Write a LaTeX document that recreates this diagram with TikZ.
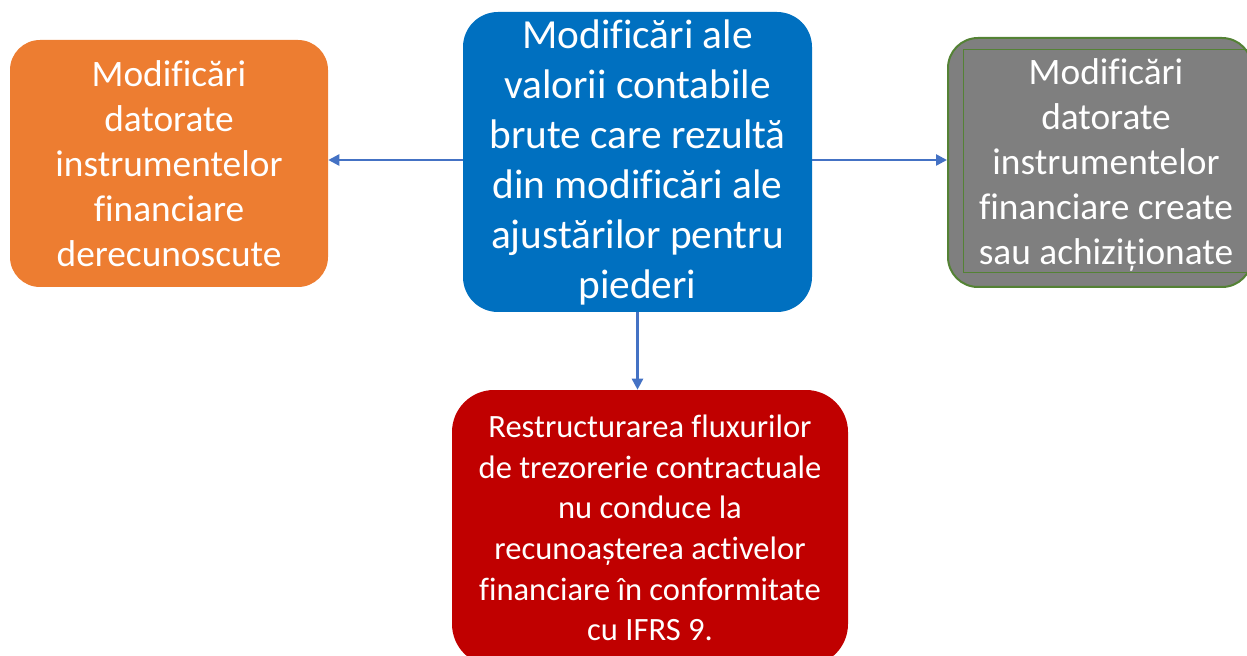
\documentclass[tikz,border=0pt]{standalone}
\usepackage{fontspec}
\setmainfont{Carlito}[Ligatures=CommonOff]
\usetikzlibrary{positioning,arrows.meta}

\definecolor{boxorange}{HTML}{ED7D31}
\definecolor{boxblue}{HTML}{0070C0}
\definecolor{boxgray}{HTML}{7F7F7F}
\definecolor{boxgreen}{HTML}{548235}
\definecolor{boxred}{HTML}{C00000}
\definecolor{linkblue}{HTML}{4472C4}
\newcommand{\px}{0.75pt}

\begin{document}
\begin{tikzpicture}[x=0.75pt,y=-0.75pt,
  box/.style={rounded corners=30*\px,inner sep=0pt,text=white,align=center},
  linkarrow/.style={draw=linkblue,line width=2.5*\px,-{Triangle[length=11*\px,width=11*\px]}}]
\clip (0,0) rectangle (1247,656);
\node[box,fill=boxorange,minimum width=318*\px,minimum height=247*\px,
  font=\fontsize{28}{33.75}\selectfont] (orange) at (169,163.5)
  {Modificări\\datorate\\instrumentelor\\financiare\\derecunoscute};
\node[box,fill=boxblue,minimum width=349*\px,minimum height=300*\px,rounded corners=35*\px,
  font=\fontsize{31}{37.5}\selectfont] (blue) at (637.5,162)
  {Modificări ale\\valorii contabile\\brute care rezultă\\din modificări ale\\ajustărilor pentru\\piederi};
\node[box,fill=boxgray,draw=boxgreen,line width=2*\px,minimum width=304*\px,minimum height=249*\px]
  (gray) at (1100,162.5) {};
\node[draw=boxgreen,line width=1*\px,inner sep=0pt,text=white,align=center,
  minimum width=285*\px,minimum height=223*\px,text depth=-8*\px,
  font=\fontsize{28}{33.75}\selectfont] (graytext) at (1106,161.5)
  {Modificări\\datorate\\instrumentelor\\financiare create\\sau achiziționate};
\node[box,fill=boxred,minimum width=396*\px,minimum height=276*\px,rounded corners=42*\px,
  font=\fontsize{24.4}{30.5}\selectfont] (red) at (650,528)
  {Restructurarea fluxurilor\\de trezorerie contractuale\\nu conduce la\\recunoașterea activelor\\financiare în conformitate\\cu IFRS 9.};
% legaturi
\draw[linkarrow] ([yshift=2*\px]blue.west) -- ([yshift=2*\px]blue.west -| orange.east);
\draw[linkarrow] ([yshift=2*\px]blue.east) -- ([yshift=2*\px]blue.east -| gray.west);
\draw[linkarrow] (blue.south) -- (blue.south |- red.north);
\end{tikzpicture}
\end{document}
